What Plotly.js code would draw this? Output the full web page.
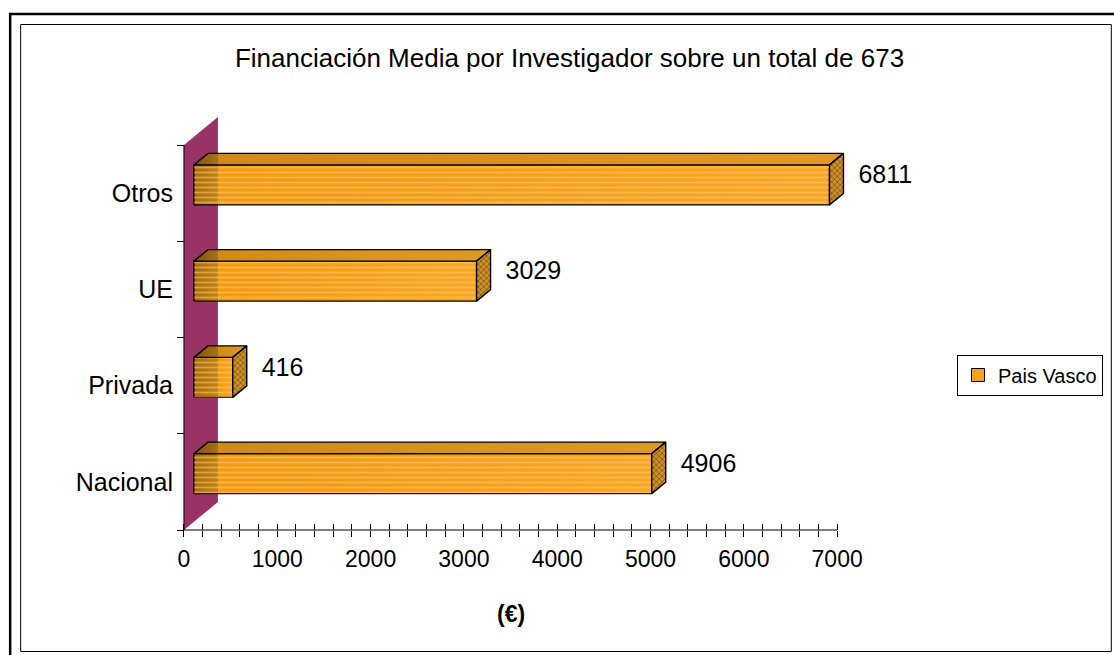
<!DOCTYPE html>
<html>
<head>
<meta charset="utf-8">
<script src="https://cdn.plot.ly/plotly-3.0.1.min.js"></script>
<style>html,body{margin:0;padding:0;background:#fff;}#chart{width:1114px;height:655px;}</style>
</head>
<body>
<div id="chart"></div>
<script>
// ---- data ----
const categories = ['Nacional', 'Privada', 'UE', 'Otros'];
const values = [4906, 416, 3029, 6811];
const seriesName = 'Pais Vasco';
const xTickVals = [0, 1000, 2000, 3000, 4000, 5000, 6000, 7000];
const chartTitle = 'Financiación Media por Investigador sobre un total de 673';
const xTitle = '(€)';

// ---- geometry (pixel-derived styling constants) ----
const PL = 150, PR = 960, PT = 100, PB = 560, W = 1114, H = 655;
const PX_X = 654 / 7000;          // px per x unit
const PX_Y = 96.25;               // px per category
const xMin = -(184 - PL) / PX_X, xMax = (PR - 184) / PX_X;
const yMin = -0.5 - (PB - 530) / PX_Y, yMax = -0.5 + (530 - PT) / PX_Y;
const DX = 34 / PX_X, DY = 28 / PX_Y;        // wall depth
const FRONT = 10 / 34, BACK = 24 / 34;
const x0 = FRONT * DX, yoff = FRONT * DY, half = 20 / PX_Y;
const ddx = (BACK - FRONT) * DX, ddy = (BACK - FRONT) * DY;
const FONT = 'Liberation Sans, Arial, sans-serif';
const NARROW = 'Liberation Sans Narrow, Arial Narrow, Liberation Sans, sans-serif';

const traces = [];
// back wall
traces.push({
  type: 'scatter', mode: 'none', fill: 'toself', fillcolor: '#993366',
  x: [0, 0, DX, DX, 0], y: [-0.5, 3.5, 3.5 + DY, -0.5 + DY, -0.5],
  showlegend: false, hoverinfo: 'skip'
});

values.forEach((v, i) => {
  const yc = i + yoff, yb = yc - half, yt = yc + half;
  const f = Math.min(0.98, Math.max(0.02, (DX - x0) / v));
  // front face
  traces.push({
    type: 'scatter', mode: 'lines', fill: 'toself', fillcolor: '#F6A21E',
    fillgradient: {type: 'horizontal', start: x0, stop: x0 + v,
      colorscale: [[0, '#A86C0C'], [f, '#C48314'], [f + 0.001, '#F29A12'], [1, '#F8A726']]},
    x: [x0, x0 + v, x0 + v, x0, x0], y: [yb, yb, yt, yt, yb],
    line: {color: '#000', width: 1.4}, showlegend: false, hoverinfo: 'skip'
  });
  // stripes on the front face
  traces.push({
    type: 'scatter', mode: 'none', fill: 'toself', fillcolor: 'rgba(0,0,0,0)',
    fillpattern: {shape: '-', fgcolor: 'rgba(255,205,120,0.5)', bgcolor: 'rgba(0,0,0,0)', size: 5, solidity: 0.35},
    x: [x0, x0 + v, x0 + v, x0, x0], y: [yb, yb, yt, yt, yb],
    showlegend: false, hoverinfo: 'skip'
  });
  // top face
  const ft = Math.min(0.98, Math.max(0.02, (DX - x0) / (v + ddx)));
  traces.push({
    type: 'scatter', mode: 'lines', fill: 'toself', fillcolor: '#D6901C',
    fillgradient: {type: 'horizontal', start: x0, stop: x0 + v + ddx,
      colorscale: [[0, '#7C5210'], [ft, '#A87316'], [ft + 0.001, '#D08A18'], [1, '#E09A24']]},
    x: [x0, x0 + v, x0 + v + ddx, x0 + ddx, x0], y: [yt, yt, yt + ddy, yt + ddy, yt],
    line: {color: '#000', width: 1.4}, showlegend: false, hoverinfo: 'skip'
  });
  // right face
  traces.push({
    type: 'scatter', mode: 'lines', fill: 'toself', fillcolor: '#C88A22',
    fillpattern: {shape: 'x', fgcolor: '#6B4A10', bgcolor: '#CF9028', size: 4, solidity: 0.3},
    x: [x0 + v, x0 + v + ddx, x0 + v + ddx, x0 + v, x0 + v], y: [yb, yb + ddy, yt + ddy, yt, yb],
    line: {color: '#000', width: 1.4}, showlegend: false, hoverinfo: 'skip'
  });
});

// value labels
traces.push({
  type: 'scatter', mode: 'text',
  x: values.map(v => x0 + v + ddx + 15 / PX_X),
  y: values.map((v, i) => i + yoff + 8 / PX_Y),
  text: values.map(v => String(v)), textposition: 'middle right',
  textfont: {family: FONT, size: 25, color: '#000'}, cliponaxis: false,
  showlegend: false, hoverinfo: 'skip'
});

// legend entry
traces.push({
  type: 'scatter', mode: 'markers', x: [null], y: [null], name: seriesName,
  marker: {symbol: 'square', size: 13, color: '#F6A21E', line: {color: '#000', width: 1}},
  showlegend: true, hoverinfo: 'skip'
});
// helper for the crossing tick axis
traces.push({type: 'scatter', mode: 'none', x: [null], y: [null], xaxis: 'x2', showlegend: false, hoverinfo: 'skip'});

const minorX = [];
for (let k = 0; k <= 7000; k += 200) minorX.push(k);

const px2u = p => (p - PL) / (PR - PL);
const py2v = p => (PB - p) / (PB - PT);

const layout = {
  width: W, height: H,
  margin: {l: PL, r: W - PR, t: PT, b: H - PB, pad: 0},
  paper_bgcolor: '#fff', plot_bgcolor: 'rgba(0,0,0,0)',
  font: {family: FONT, color: '#000', size: 24},
  title: {text: chartTitle, font: {family: FONT, size: 26, color: '#000'},
    x: 569.5 / W, xref: 'container', xanchor: 'center', y: 1 - 58 / H, yref: 'container', yanchor: 'middle'},
  showlegend: true,
  legend: {x: px2u(1103), xanchor: 'right', y: py2v(375), yanchor: 'middle',
    bgcolor: '#fff', bordercolor: '#000', borderwidth: 1,
    font: {family: NARROW, size: 20, color: '#000'}, itemwidth: 30},
  xaxis: {range: [xMin, xMax], anchor: 'free', position: py2v(530),
    showgrid: false, zeroline: false, showline: false,
    tickmode: 'array', tickvals: xTickVals, ticks: 'outside', ticklen: 6, tickcolor: '#000', tickwidth: 1,
    minor: {tickmode: 'array', tickvals: minorX, ticks: 'outside', ticklen: 6, tickcolor: '#000', tickwidth: 1, showgrid: false},
    tickfont: {family: FONT, size: 23, color: '#000'}, ticklabelstandoff: 2, fixedrange: true},
  xaxis2: {range: [xMin, xMax], overlaying: 'x', anchor: 'free', position: py2v(530),
    showgrid: false, zeroline: false, showline: false, showticklabels: false,
    tickmode: 'array', tickvals: xTickVals, ticks: 'inside', ticklen: 6, tickcolor: '#000', tickwidth: 1,
    minor: {tickmode: 'array', tickvals: minorX, ticks: 'inside', ticklen: 6, tickcolor: '#000', tickwidth: 1, showgrid: false}},
  yaxis: {range: [yMin, yMax], anchor: 'free', position: px2u(184),
    showgrid: false, zeroline: false, showline: false,
    tickmode: 'array', tickvals: categories.map((c, i) => i), ticktext: categories, ticks: '',
    minor: {tickmode: 'array', tickvals: [-0.5, 0.5, 1.5, 2.5, 3.5], ticks: 'outside', ticklen: 7, tickcolor: '#000', tickwidth: 1, showgrid: false},
    tickfont: {family: FONT, size: 25, color: '#000'}, ticklabelstandoff: 11, fixedrange: true},
  shapes: [
    {type: 'line', xref: 'x', yref: 'y', x0: 0, x1: 7000, y0: -0.5, y1: -0.5, line: {color: '#000', width: 1}, layer: 'above'},
    {type: 'line', xref: 'x', yref: 'y', x0: 0, x1: 0, y0: -0.5, y1: 3.5, line: {color: '#000', width: 1}, layer: 'above'},
    {type: 'rect', xref: 'paper', yref: 'paper', x0: px2u(10), x1: px2u(1125), y0: py2v(14), y1: py2v(665), line: {color: '#000', width: 2.5}, fillcolor: 'rgba(0,0,0,0)', layer: 'below'},
    {type: 'rect', xref: 'paper', yref: 'paper', x0: px2u(20.5), x1: px2u(1112.5), y0: py2v(24.5), y1: py2v(651.5), line: {color: '#000', width: 1}, fillcolor: 'rgba(0,0,0,0)', layer: 'below'}
  ],
  annotations: [
    {text: '<b>' + xTitle + '</b>', xref: 'x', x: 3500, yref: 'paper', y: py2v(614), xanchor: 'center', yanchor: 'middle',
      showarrow: false, font: {family: FONT, size: 23, color: '#000'}}
  ]
};

Plotly.newPlot('chart', traces, layout, {displayModeBar: false, staticPlot: true});
</script>
</body>
</html>
